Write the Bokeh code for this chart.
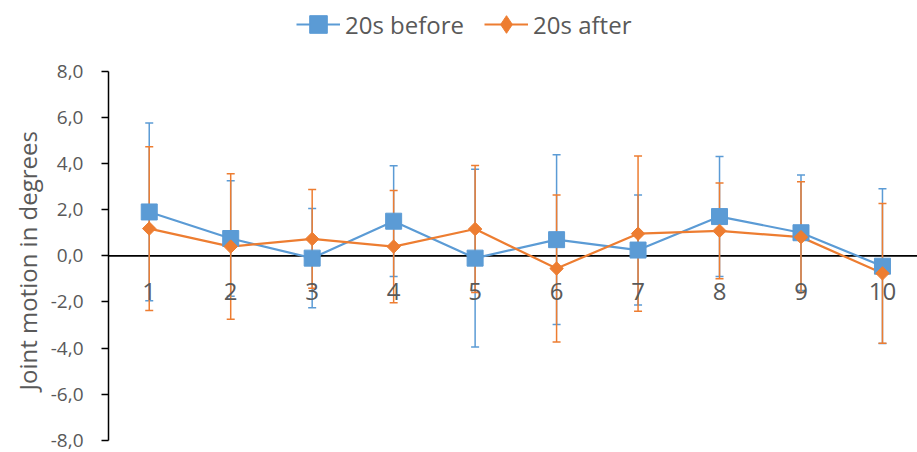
import math
from bokeh.plotting import figure
from bokeh.models import (ColumnDataSource, Whisker, TeeHead, Span, Legend,
                          LegendItem, FixedTicker, Range1d, Title)
from bokeh.core.properties import value
from bokeh.embed import file_html
from bokeh.resources import INLINE

# ---- data ----
categories = [1, 2, 3, 4, 5, 6, 7, 8, 9, 10]
cat_labels = ["1", "2", "3", "4", "5", "6", "7", "8", "9", "10"]
before_mean = [1.9, 0.75, -0.1, 1.5, -0.1, 0.7, 0.25, 1.7, 1.0, -0.45]
before_sd = [3.85, 2.5, 2.15, 2.4, 3.85, 3.68, 2.38, 2.6, 2.5, 3.35]
after_mean = [1.18, 0.4, 0.73, 0.4, 1.16, -0.55, 0.96, 1.08, 0.81, -0.76]
after_sd = [3.55, 3.15, 2.14, 2.43, 2.75, 3.18, 3.36, 2.07, 2.4, 3.03]
y_ticks = [-8, -6, -4, -2, 0, 2, 4, 6, 8]
y_tick_labels = ["-8,0", "-6,0", "-4,0", "-2,0", "0,0", "2,0", "4,0", "6,0", "8,0"]
y_axis_bounds = (-8, 8)
series_names = ["20s before", "20s after"]
y_title = "Joint motion in degrees"

BLUE = "#5B9BD5"
ORANGE = "#ED7D31"
GREY = "#595959"
FONT = "Open Sans"

src_b = ColumnDataSource(dict(
    x=categories, y=before_mean,
    upper=[m + s for m, s in zip(before_mean, before_sd)],
    lower=[m - s for m, s in zip(before_mean, before_sd)]))
src_a = ColumnDataSource(dict(
    x=categories, y=after_mean,
    upper=[m + s for m, s in zip(after_mean, after_sd)],
    lower=[m - s for m, s in zip(after_mean, after_sd)]))
src_lbl = ColumnDataSource(dict(x=categories, y=[0] * len(categories), t=cat_labels))

# frame covers the legend strip too; the axis itself is bounded to -8..8
p = figure(width=917, height=452, output_backend="svg", toolbar_location=None,
           x_axis_location=None, x_range=Range1d(0.5, 10.43),
           y_range=Range1d(-8, 11.06),
           min_border_left=108, min_border_right=0, min_border_top=0,
           min_border_bottom=12, outline_line_color=None,
           background_fill_color="white", border_fill_color="white")
p.grid.visible = False

# y axis
ya = p.yaxis[0]
ya.ticker = FixedTicker(ticks=y_ticks)
ya.bounds = y_axis_bounds
ya.major_label_overrides = {t: l for t, l in zip(y_ticks, y_tick_labels)}
ya.axis_line_color = "black"
ya.axis_line_width = 1.5
ya.major_tick_line_color = "black"
ya.major_tick_line_width = 1.5
ya.major_tick_out = 7
ya.major_tick_in = 0
ya.minor_tick_line_color = None
ya.major_label_standoff = 18
ya.major_label_text_font = FONT
ya.major_label_text_font_size = "19px"
ya.major_label_text_color = GREY

# y axis title, placed along the bounded part of the axis
p.add_layout(Title(text=y_title, align="left", offset=50, standoff=7,
                   text_font=FONT, text_font_size="24px",
                   text_font_style="normal", text_color=GREY), "left")

# zero line
p.add_layout(Span(location=0, dimension="width", line_color="black",
                  line_width=1.8, level="underlay"))

# error bars
for src, col in ((src_b, BLUE), (src_a, ORANGE)):
    w = Whisker(base="x", upper="upper", lower="lower", source=src,
                line_color=col, line_width=1.5, level="underlay",
                upper_head=TeeHead(size=8, line_color=col, line_width=1.5),
                lower_head=TeeHead(size=8, line_color=col, line_width=1.5))
    p.add_layout(w)

# category labels at the zero line
p.text(x="x", y="y", text="t", source=src_lbl, text_font=value(FONT),
       text_font_size="24px", text_color=GREY, text_align="center",
       text_baseline="middle", y_offset=36)

# lines and markers
bl = p.line("x", "y", source=src_b, line_color=BLUE, line_width=2.2)
al = p.line("x", "y", source=src_a, line_color=ORANGE, line_width=2.2)
bs = p.scatter("x", "y", source=src_b, marker="square", size=16,
               fill_color=BLUE, line_color=BLUE, line_width=1)
asq = p.scatter("x", "y", source=src_a, marker="square", angle=math.pi / 4,
                size=9.5, fill_color=ORANGE, line_color=ORANGE, line_width=1)
# legend-only diamond sample (a single NaN point, never drawn in the plot)
nan_src = ColumnDataSource(dict(x=[float("nan")], y=[float("nan")]))
adm = p.scatter("x", "y", source=nan_src, marker="diamond", size=16,
                fill_color=ORANGE, line_color=ORANGE)

legend = Legend(items=[LegendItem(label=series_names[0], renderers=[bl, bs]),
                       LegendItem(label=series_names[1], renderers=[al, adm])],
                orientation="horizontal", location=(188, 394),
                padding=0, margin=0, spacing=20, label_standoff=5,
                glyph_width=44, glyph_height=44,
                label_text_font=FONT, label_text_font_size="24px",
                label_text_color=GREY, border_line_color=None,
                background_fill_alpha=0)
p.add_layout(legend, "center")

open("out.html", "w").write(file_html(p, INLINE))
